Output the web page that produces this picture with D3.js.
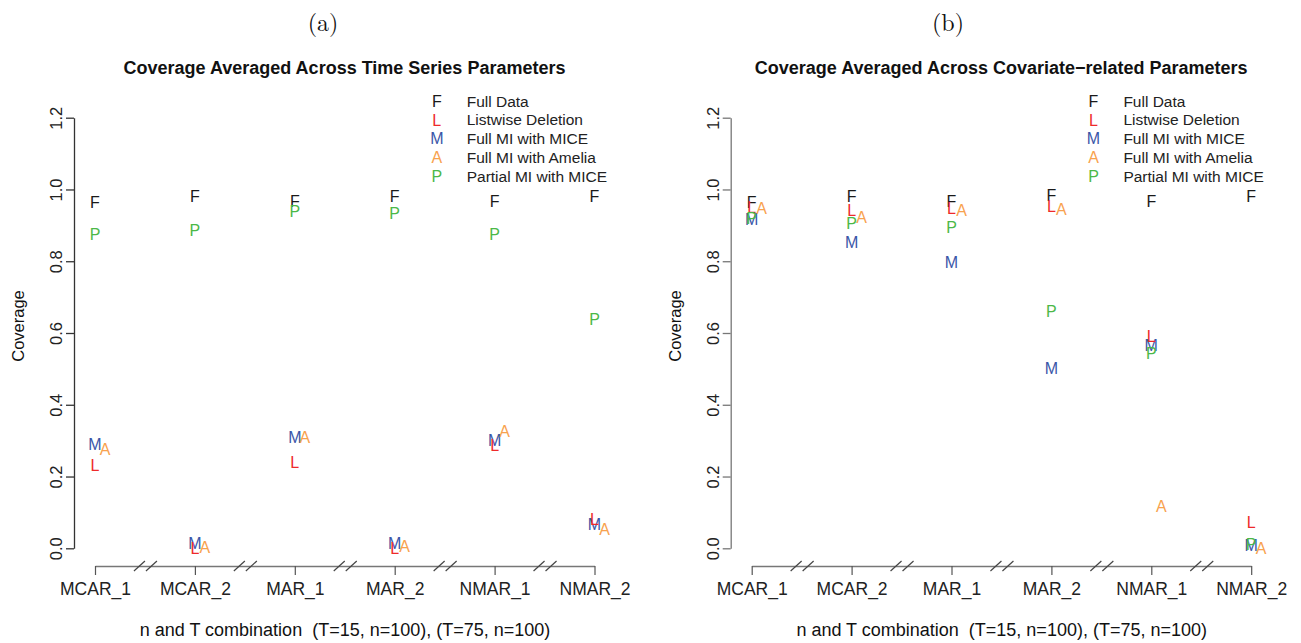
<!DOCTYPE html>
<html>
<head>
<meta charset="utf-8">
<script src="https://cdn.jsdelivr.net/npm/d3@7"></script>
<style>
  body { margin: 0; background: #fff; }
  svg { display: block; font-family: "Liberation Sans", Arial, Helvetica, sans-serif; }
</style>
</head>
<body>
<div id="chart"></div>
<script>
const categories = ['MCAR_1', 'MCAR_2', 'MAR_1', 'MAR_2', 'NMAR_1', 'NMAR_2'];
const yTicks = [0.0, 0.2, 0.4, 0.6, 0.8, 1.0, 1.2];

const methodKeys = ['F', 'M', 'L', 'A', 'P'];
const legendKeys = ['F', 'L', 'M', 'A', 'P'];
const legendLabels = ['Full Data', 'Listwise Deletion', 'Full MI with MICE', 'Full MI with Amelia', 'Partial MI with MICE'];
const colors = { F: '#1a1a1a', L: '#ee2a2a', M: '#3a56a8', A: '#f8a24e', P: '#4cb848' };

// (a) time series parameters
const tsFull     = [0.964, 0.980, 0.966, 0.980, 0.966, 0.980];
const tsListwise = [0.232, 0.000, 0.241, 0.000, 0.288, 0.081];
const tsMice     = [0.290, 0.015, 0.309, 0.014, 0.302, 0.067];
const tsAmelia   = [0.276, 0.002, 0.309, 0.005, 0.325, 0.053];
const tsPartial  = [0.876, 0.885, 0.938, 0.935, 0.876, 0.638];

// (b) covariate-related parameters
const cvFull     = [0.964, 0.980, 0.966, 0.985, 0.966, 0.980];
const cvListwise = [0.950, 0.941, 0.948, 0.952, 0.592, 0.072];
const cvMice     = [0.917, 0.853, 0.796, 0.502, 0.567, 0.009];
const cvAmelia   = [0.948, 0.922, 0.941, 0.946, 0.116, 0.000];
const cvPartial  = [0.920, 0.906, 0.896, 0.661, 0.543, 0.010];

const W = 1301, H = 643;
const svg = d3.select('#chart').append('svg').attr('width', W).attr('height', H);

function drawPanel(opts) {
  const { ox, tag, tagX, title, series, yAxisColor } = opts;
  const g = svg.append('g').attr('transform', `translate(${ox},0)`);

  const axisX = 74;
  const y = d3.scaleLinear().domain([0, 1.2]).range([548.3, 117.7]);
  const x = d3.scalePoint().domain(categories).range([95, 594.5]);
  const aShift = x.step() * 0.1;

  // subfigure tag
  svg.append('text')
    .attr('x', tagX).attr('y', 31)
    .attr('text-anchor', 'middle')
    .style('font-family', '"Latin Modern Roman", "DejaVu Serif", "Liberation Serif", serif')
    .style('font-size', '24px')
    .attr('fill', '#111')
    .text(tag);

  // title
  g.append('text')
    .attr('x', 344.5).attr('y', 74)
    .attr('text-anchor', 'middle')
    .style('font-size', '18px')
    .style('font-weight', 'bold')
    .attr('fill', '#111')
    .text(title);

  // y axis
  const yAxis = d3.axisLeft(y).tickValues(yTicks).tickFormat(d3.format('.1f')).tickSize(8).tickSizeOuter(0);
  const ya = g.append('g').attr('transform', `translate(${axisX},0)`).call(yAxis);
  ya.select('.domain').attr('stroke', yAxisColor).attr('stroke-width', 1.3);
  ya.selectAll('.tick line').attr('stroke', yAxisColor).attr('stroke-width', 1.3);
  ya.selectAll('.tick text')
    .attr('x', null).attr('dy', null)
    .attr('text-anchor', 'middle')
    .attr('transform', 'translate(-12,0) rotate(-90)')
    .style('font-size', '16.5px')
    .style('font-family', '"Liberation Sans", Arial, sans-serif')
    .attr('fill', '#222');

  g.append('text')
    .attr('transform', 'translate(24,326) rotate(-90)')
    .attr('text-anchor', 'middle')
    .style('font-size', '16.5px')
    .attr('fill', '#111')
    .text('Coverage');

  // x axis with break marks
  const xAxis = d3.axisBottom(x).tickSize(9).tickSizeOuter(0);
  const xa = g.append('g').attr('transform', 'translate(0,566)').call(xAxis);
  xa.select('.domain').attr('stroke', '#777').attr('stroke-width', 1.6);
  xa.selectAll('.tick line').attr('stroke', '#555').attr('stroke-width', 1.2);
  xa.selectAll('.tick text')
    .attr('y', 17).attr('dy', '0.71em')
    .style('font-size', '17.5px')
    .style('font-family', '"Liberation Sans", Arial, sans-serif')
    .attr('fill', '#222');

  const mids = categories.slice(0, -1).map((c, i) => (x(c) + x(categories[i + 1])) / 2);
  const brk = xa.append('g');
  mids.forEach(m => {
    [[-11, 0], [1, 12]].forEach(([a, b]) => {
      brk.append('line')
        .attr('x1', m + a).attr('y1', 5)
        .attr('x2', m + b).attr('y2', -5)
        .attr('stroke', '#444').attr('stroke-width', 1.2);
    });
  });

  g.append('text')
    .attr('x', 345).attr('y', 636)
    .attr('text-anchor', 'middle')
    .style('font-size', '18px')
    .style('white-space', 'pre')
    .attr('fill', '#111')
    .text('n and T combination  (T=15, n=100), (T=75, n=100)');

  // letter points
  const pts = g.append('g');
  methodKeys.forEach(k => {
    pts.selectAll(null)
      .data(series[k].map((v, i) => ({ cat: categories[i], v })))
      .join('text')
      .attr('x', d => x(d.cat) + (k === 'A' ? aShift : 0))
      .attr('y', d => y(d.v))
      .attr('dy', '0.36em')
      .attr('text-anchor', 'middle')
      .style('font-size', '16px')
      .attr('fill', colors[k])
      .text(k);
  });

  // legend
  const lg = g.append('g');
  legendKeys.forEach((k, i) => {
    const ly = 101 + i * 18.8;
    lg.append('text')
      .attr('x', axisX + 362.8).attr('y', ly).attr('dy', '0.36em')
      .attr('text-anchor', 'middle')
      .style('font-size', '16px')
      .attr('fill', colors[k])
      .text(k);
    lg.append('text')
      .attr('x', axisX + 392.7).attr('y', ly).attr('dy', '0.36em')
      .style('font-size', '15.5px')
      .attr('fill', '#222')
      .text(legendLabels[i]);
  });
}

drawPanel({
  ox: 0, tag: '(a)', tagX: 323,
  title: 'Coverage Averaged Across Time Series Parameters',
  series: { F: tsFull, L: tsListwise, M: tsMice, A: tsAmelia, P: tsPartial },
  yAxisColor: '#333'
});

drawPanel({
  ox: 656.7, tag: '(b)', tagX: 948,
  title: 'Coverage Averaged Across Covariate\u2212related Parameters',
  series: { F: cvFull, L: cvListwise, M: cvMice, A: cvAmelia, P: cvPartial },
  yAxisColor: '#777'
});
</script>
</body>
</html>
